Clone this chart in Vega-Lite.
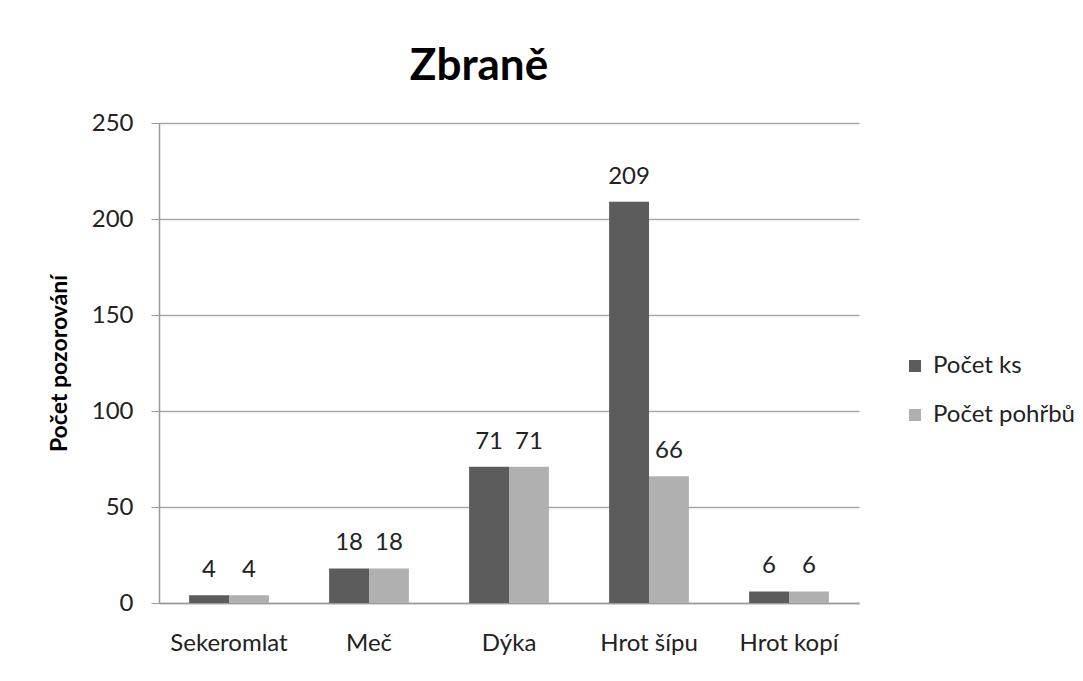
{
  "$schema": "https://vega.github.io/schema/vega-lite/v6.json",
  "autosize": {"type": "none"},
  "padding": {"left": 159, "top": 123, "right": 224, "bottom": 78},
  "width": 700,
  "height": 480,
  "background": "#ffffff",
  "title": {"text": "Zbraně", "font": "Lato", "fontSize": 44, "fontWeight": "bold", "color": "#000000", "anchor": "middle", "dx": -30, "offset": 22},
  "data": {"values": [
    {"kategorie": "Sekeromlat", "serie": "Počet ks", "hodnota": 4},
    {"kategorie": "Sekeromlat", "serie": "Počet pohřbů", "hodnota": 4},
    {"kategorie": "Meč", "serie": "Počet ks", "hodnota": 18},
    {"kategorie": "Meč", "serie": "Počet pohřbů", "hodnota": 18},
    {"kategorie": "Dýka", "serie": "Počet ks", "hodnota": 71},
    {"kategorie": "Dýka", "serie": "Počet pohřbů", "hodnota": 71},
    {"kategorie": "Hrot šípu", "serie": "Počet ks", "hodnota": 209},
    {"kategorie": "Hrot šípu", "serie": "Počet pohřbů", "hodnota": 66},
    {"kategorie": "Hrot kopí", "serie": "Počet ks", "hodnota": 6},
    {"kategorie": "Hrot kopí", "serie": "Počet pohřbů", "hodnota": 6}
  ]},
  "encoding": {
    "x": {"field": "kategorie", "type": "nominal", "sort": null,
      "scale": {"paddingInner": 0.43, "paddingOuter": 0.215},
      "axis": {"title": null, "labelAngle": 0, "ticks": false, "labelPadding": 28, "labelFont": "Lato", "labelFontSize": 24, "labelColor": "#222222", "domainColor": "#9a9a9a", "domainWidth": 1.5}},
    "xOffset": {"field": "serie", "type": "nominal", "sort": ["Počet ks", "Počet pohřbů"], "scale": {"paddingInner": 0, "paddingOuter": 0}},
    "y": {"field": "hodnota", "type": "quantitative",
      "scale": {"domain": [0, 250], "nice": false},
      "axis": {"title": "Počet pozorování", "values": [0, 50, 100, 150, 200, 250], "tickSize": 8, "tickColor": "#9a9a9a", "labelPadding": 18, "labelFont": "Lato", "labelFontSize": 24, "labelColor": "#222222", "domainColor": "#9a9a9a", "domainWidth": 1.5, "gridColor": "#a8a8a8", "gridWidth": 1.3, "titleFont": "Lato", "titleFontSize": 23, "titleFontWeight": "bold", "titleColor": "#000000", "titlePadding": 20}}
  },
  "layer": [
    {"mark": {"type": "bar"},
     "encoding": {"color": {"field": "serie", "type": "nominal", "sort": ["Počet ks", "Počet pohřbů"],
        "scale": {"domain": ["Počet ks", "Počet pohřbů"], "range": ["#5c5c5c", "#b0b0b0"]},
        "legend": {"title": null, "orient": "none", "legendX": 744, "legendY": 231, "symbolType": "square", "symbolSize": 144, "symbolStrokeWidth": 0, "labelFont": "Lato", "labelFontSize": 24, "labelColor": "#222222", "labelOffset": 6, "rowPadding": 25}}}},
    {"mark": {"type": "text", "font": "Lato", "fontSize": 24, "color": "#222222", "baseline": "alphabetic", "dy": -18},
     "encoding": {"text": {"field": "hodnota", "type": "quantitative"}}}
  ],
  "config": {"view": {"stroke": null}}
}
